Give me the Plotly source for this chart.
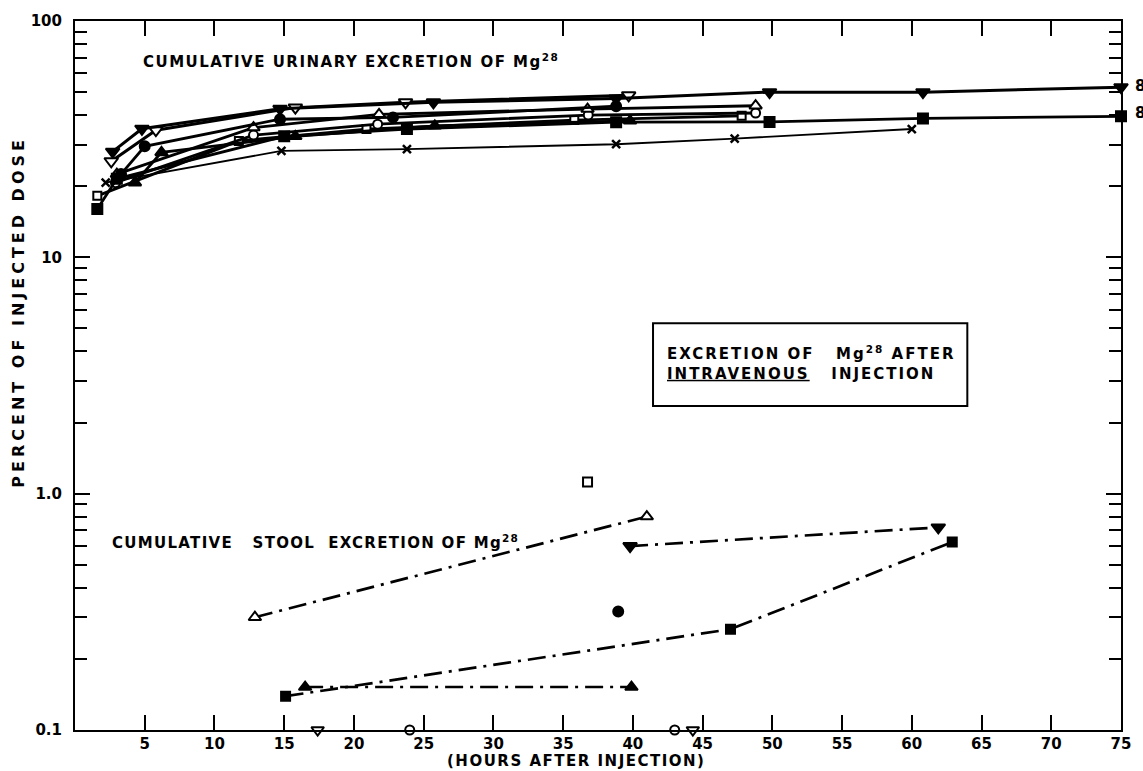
import plotly.graph_objects as go

# ---------------- DATA (hours after injection, percent of injected dose) -------------
# Cumulative urinary excretion
u_tdf_h = [2.7, 4.8, 14.7, 25.7, 38.8, 49.8, 60.8, 75.0]       # filled down-triangle
u_tdf_v = [28.0, 35.0, 42.5, 45.3, 47.0, 50.0, 50.0, 52.5]
u_tdo_h = [2.6, 5.8, 15.8, 23.7, 39.7]                          # open down-triangle
u_tdo_v = [25.5, 34.5, 43.0, 45.3, 48.5]
u_cf_h = [3.3, 5.0, 14.7, 22.8, 38.8]                           # filled circle
u_cf_v = [22.5, 29.5, 38.4, 39.1, 43.6]
u_co_h = [2.9, 12.8, 21.7, 36.8, 48.8]                          # open circle
u_co_v = [20.7, 32.9, 36.6, 40.0, 40.8]
u_tuf_h = [4.3, 6.2, 15.8, 25.8, 39.8]                          # filled up-triangle
u_tuf_v = [20.7, 27.8, 32.5, 36.0, 37.8]
u_tuo_h = [3.0, 12.8, 21.8, 36.75, 48.8]                        # open up-triangle
u_tuo_v = [22.5, 35.4, 40.3, 42.4, 43.8]
u_sf_h = [1.6, 3.0, 15.0, 23.8, 38.8, 49.8, 60.8, 75.0]         # filled square
u_sf_v = [16.0, 21.5, 32.5, 34.9, 37.3, 37.4, 38.7, 39.5]
u_so_h = [1.6, 11.75, 20.9, 35.8, 47.8]                         # open square
u_so_v = [18.2, 31.1, 34.9, 38.1, 39.7]
u_x_h = [2.2, 14.8, 23.8, 38.8, 47.3, 60.0]                     # cross
u_x_v = [20.7, 28.2, 28.7, 30.1, 31.8, 34.9]

# Cumulative stool excretion
s_tuo_h = [12.9, 41.0]
s_tuo_v = [0.30, 0.80]
s_tdf_h = [39.8, 61.9]
s_tdf_v = [0.60, 0.72]
s_sf_h = [15.1, 47.0, 62.9]
s_sf_v = [0.139, 0.267, 0.624]
s_tuf_h = [16.5, 39.9]
s_tuf_v = [0.152, 0.152]
s_cf_h = [38.95]
s_cf_v = [0.317]
s_so_h = [36.75]
s_so_v = [1.12]
s_tdo_h = [17.4, 44.3]
s_tdo_v = [0.1, 0.1]
s_co_h = [24.0, 43.0]
s_co_v = [0.1, 0.1]

x_ticks = [5, 10, 15, 20, 25, 30, 35, 40, 45, 50, 55, 60, 65, 70, 75]
y_ticks = [0.1, 1, 10, 100]
y_ticktext = ["0.1", "1.0", "10", "100"]

# ---------------- STYLE ----------------
FONT = "DejaVu Sans"
BLACK = "black"


def mk(symbol, filled, size):
    if symbol == "x-thin":
        return dict(symbol="x-thin", size=size, line=dict(color=BLACK, width=2.5), color=BLACK)
    return dict(symbol=symbol, size=size,
                color=BLACK if filled else "white",
                line=dict(color=BLACK, width=2))


fig = go.Figure()

urinary = [
    (u_x_h, u_x_v, "x-thin", True, 8, 1.9),
    (u_so_h, u_so_v, "square", False, 8, 2.8),
    (u_co_h, u_co_v, "circle", False, 9, 2.8),
    (u_tuo_h, u_tuo_v, "triangle-up", False, 11, 2.8),
    (u_tuf_h, u_tuf_v, "triangle-up", True, 11, 2.8),
    (u_cf_h, u_cf_v, "circle", True, 10, 2.8),
    (u_sf_h, u_sf_v, "square", True, 10, 2.8),
    (u_tdo_h, u_tdo_v, "triangle-down", False, 12, 3.0),
    (u_tdf_h, u_tdf_v, "triangle-down", True, 12, 3.0),
]
for h, v, sym, filled, size, lw in urinary:
    fig.add_trace(go.Scatter(x=h, y=v, mode="lines+markers",
                             line=dict(color=BLACK, width=lw),
                             marker=mk(sym, filled, size),
                             cliponaxis=False, showlegend=False))

DASH = "18px,7px,3px,7px"
stool_lines = [
    (s_tuo_h, s_tuo_v, "triangle-up", False, 11),
    (s_tdf_h, s_tdf_v, "triangle-down", True, 12),
    (s_sf_h, s_sf_v, "square", True, 9),
    (s_tuf_h, s_tuf_v, "triangle-up", True, 11),
]
for h, v, sym, filled, size in stool_lines:
    fig.add_trace(go.Scatter(x=h, y=v, mode="lines+markers",
                             line=dict(color=BLACK, width=2.7, dash=DASH),
                             marker=mk(sym, filled, size),
                             cliponaxis=False, showlegend=False))

stool_points = [
    (s_cf_h, s_cf_v, "circle", True, 10),
    (s_so_h, s_so_v, "square", False, 9),
    (s_tdo_h, s_tdo_v, "triangle-down", False, 11),
    (s_co_h, s_co_v, "circle", False, 9),
]
for h, v, sym, filled, size in stool_points:
    fig.add_trace(go.Scatter(x=h, y=v, mode="markers",
                             marker=mk(sym, filled, size),
                             cliponaxis=False, showlegend=False))

tickfont = dict(family=FONT, size=15, color=BLACK, weight="bold")
minor_vals = [m * 10 ** e for e in (-1, 0, 1) for m in range(2, 10)]

fig.update_xaxes(range=[0, 75], showline=True, linewidth=2, linecolor=BLACK,
                 mirror="ticks", ticks="inside", ticklen=15, tickwidth=2, tickcolor=BLACK,
                 tickvals=x_ticks, showgrid=False, zeroline=False, tickfont=tickfont,
                 ticklabelstandoff=-1)
fig.update_yaxes(type="log", range=[-1, 2], showline=True, linewidth=2, linecolor=BLACK,
                 mirror="ticks", ticks="inside", ticklen=15, tickwidth=2, tickcolor=BLACK,
                 tickvals=y_ticks, ticktext=y_ticktext, showgrid=False, zeroline=False,
                 tickfont=tickfont, ticklabelstandoff=8,
                 minor=dict(ticks="inside", ticklen=12, tickwidth=2, tickcolor=BLACK,
                            tickvals=minor_vals, showgrid=False))

L, R, T, B = 75, 13, 19, 41
W, H = 1143, 771
pw, ph = W - L - R, H - T - B


def px(x):
    return (x - L) / pw


def py(y):
    return (H - B - y) / ph


def ls(text, sp):
    return f'<span style="letter-spacing:{sp}px">{text}</span>'


NB = "\u00a0"
annotations = [
    dict(text=ls("CUMULATIVE URINARY EXCRETION OF Mg<sup>28</sup>", 1.5), x=px(142), y=py(59),
         xanchor="left", yanchor="middle"),
    dict(text=ls("CUMULATIVE" + NB * 3 + "STOOL" + NB + " EXCRETION OF Mg<sup>28</sup>", 1.3),
         x=px(110), y=py(541), xanchor="left", yanchor="middle"),
    dict(text=ls("EXCRETION OF" + NB * 3 + "Mg<sup>28</sup> AFTER<br><u>INTRAVENOUS</u>"
                 + NB * 3 + "INJECTION", 2.0),
         x=px(670), y=py(362), xanchor="left", yanchor="middle", align="left"),
    dict(text=ls("(HOURS AFTER INJECTION)", 1.5), x=px(580), y=py(761),
         xanchor="center", yanchor="middle"),
    dict(text=ls("PERCENT OF INJECTED DOSE", 4.0), x=px(18), y=py(310), textangle=-90,
         xanchor="center", yanchor="middle", font_size=16),
    dict(text="84", x=px(1142), y=py(84), xanchor="left", yanchor="middle"),
    dict(text="84", x=px(1142), y=py(111), xanchor="left", yanchor="middle"),
]
for a in annotations:
    fs = a.pop("font_size", 15)
    a.update(xref="paper", yref="paper", showarrow=False,
             font=dict(family=FONT, size=fs, color=BLACK, weight="bold"))

fig.update_layout(
    width=W, height=H, autosize=False,
    margin=dict(l=L, r=R, t=T, b=B, pad=0),
    paper_bgcolor="white", plot_bgcolor="white",
    annotations=annotations,
    shapes=[dict(type="rect", xref="paper", yref="paper",
                 x0=px(658), x1=px(975), y0=py(405), y1=py(322),
                 line=dict(color=BLACK, width=2), fillcolor="rgba(0,0,0,0)")],
)

fig.write_html("out.html", config={"displayModeBar": False},
               post_script="document.body.style.margin='0';")
